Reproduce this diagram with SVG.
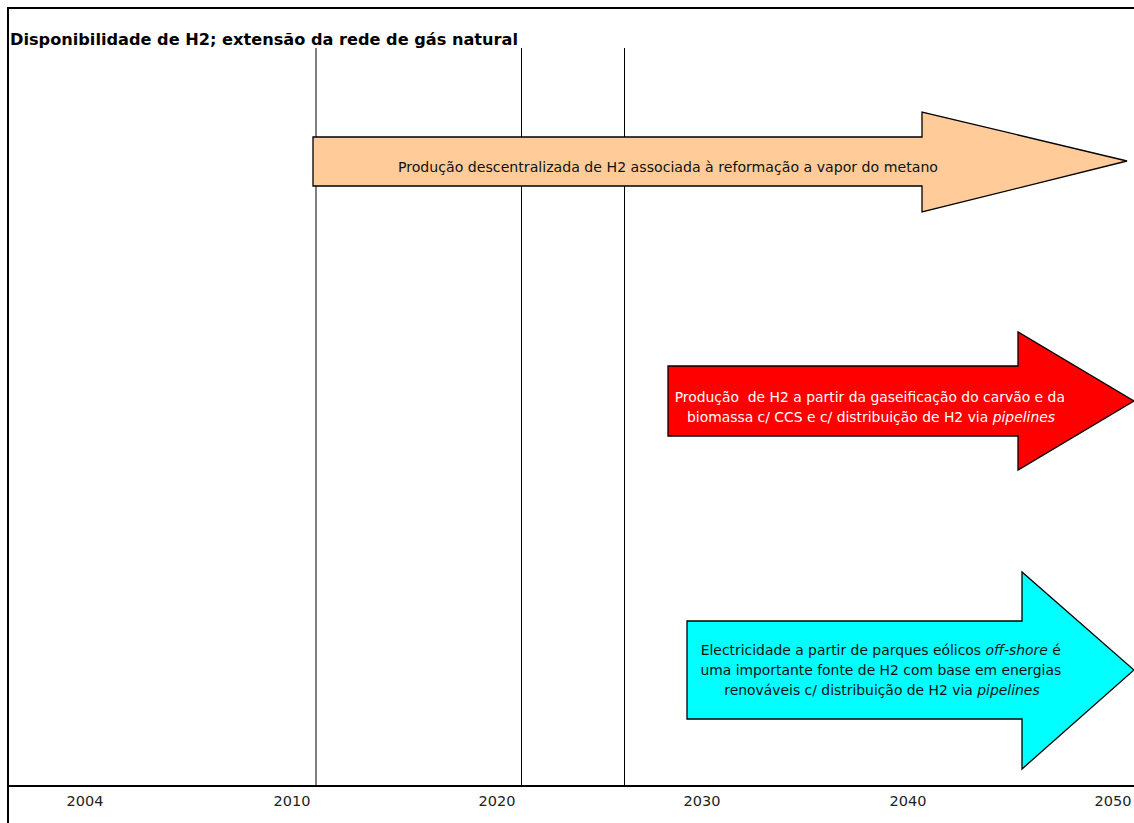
<svg xmlns="http://www.w3.org/2000/svg" width="1134" height="823" viewBox="0 0 1134 823">
  <style>
    .frame { stroke: #000; stroke-width: 2; fill: none; }
    .grid { stroke: #000; stroke-width: 1; fill: none; }
    .arrow { stroke: #000; stroke-width: 1.3; stroke-linejoin: miter; }
    .title { font-family: "DejaVu Sans Condensed", "DejaVu Sans", Verdana, sans-serif; font-weight: bold; font-size: 15px; fill: #000; }
    .year { font-family: "DejaVu Sans", Verdana, sans-serif; font-size: 14.5px; fill: #222; text-anchor: middle; }
    .label { font-family: "DejaVu Sans", Verdana, sans-serif; font-size: 13.9px; text-anchor: middle; }
    .narrow { font-family: "DejaVu Sans Condensed", "DejaVu Sans", sans-serif; font-size: 13.5px; fill: #111; text-anchor: middle; }
  </style>
  <rect width="1134" height="823" fill="#fff"/>

  <!-- frame and time axis -->
  <g id="axes">
    <line class="frame" x1="8" y1="8" x2="1134" y2="8"/>
    <line class="frame" x1="8" y1="7" x2="8" y2="823"/>
    <line class="frame" x1="8" y1="786" x2="1134" y2="786" stroke-width="2.5"/>
    <line class="grid" x1="316" y1="48" x2="316" y2="786" stroke-width="1.6"/>
    <line class="grid" x1="521.5" y1="48" x2="521.5" y2="786"/>
    <line class="grid" x1="624.5" y1="48" x2="624.5" y2="786" stroke="#333"/>
  </g>

  <text class="title" x="10" y="45" textLength="508" lengthAdjust="spacingAndGlyphs">Disponibilidade de H2; extensão da rede de gás natural</text>

  <g id="years">
    <text class="year" x="85" y="806">2004</text>
    <text class="year" x="292" y="806">2010</text>
    <text class="year" x="497" y="806">2020</text>
    <text class="year" x="702" y="806">2030</text>
    <text class="year" x="908" y="806">2040</text>
    <text class="year" x="1113" y="806">2050</text>
  </g>

  <!-- arrows -->
  <g id="node-reforming">
    <polygon class="arrow" fill="#ffcc99" points="313,137 922,137 922,112 1127,161 922,212 922,186 313,186"/>
    <text class="narrow" x="668" y="172" textLength="540" lengthAdjust="spacingAndGlyphs">Produção descentralizada de H2 associada à reformação a vapor do metano</text>
  </g>

  <g id="node-gasification">
    <polygon class="arrow" fill="#ff0000" points="668,366 1018,366 1018,332 1134,401 1018,470 1018,436 668,436"/>
    <text class="label" fill="#fff">
      <tspan x="872" y="402">Produção&#160; de H2 a partir da gaseificação do carvão e da</tspan>
      <tspan x="871" y="422">biomassa c/ CCS e c/ distribuição de H2 via <tspan font-style="italic">pipelines</tspan></tspan>
    </text>
  </g>

  <g id="node-offshore">
    <polygon class="arrow" fill="#00ffff" points="687,621 1022,621 1022,572 1134,670 1022,769 1022,719 687,719"/>
    <text class="label" fill="#111">
      <tspan x="883" y="655">Electricidade a partir de parques eólicos <tspan font-style="italic">off-shore</tspan> é</tspan>
      <tspan x="883" y="675">uma importante fonte de H2 com base em energias</tspan>
      <tspan x="882" y="695">renováveis c/ distribuição de H2 via <tspan font-style="italic">pipelines</tspan></tspan>
    </text>
  </g>
</svg>
